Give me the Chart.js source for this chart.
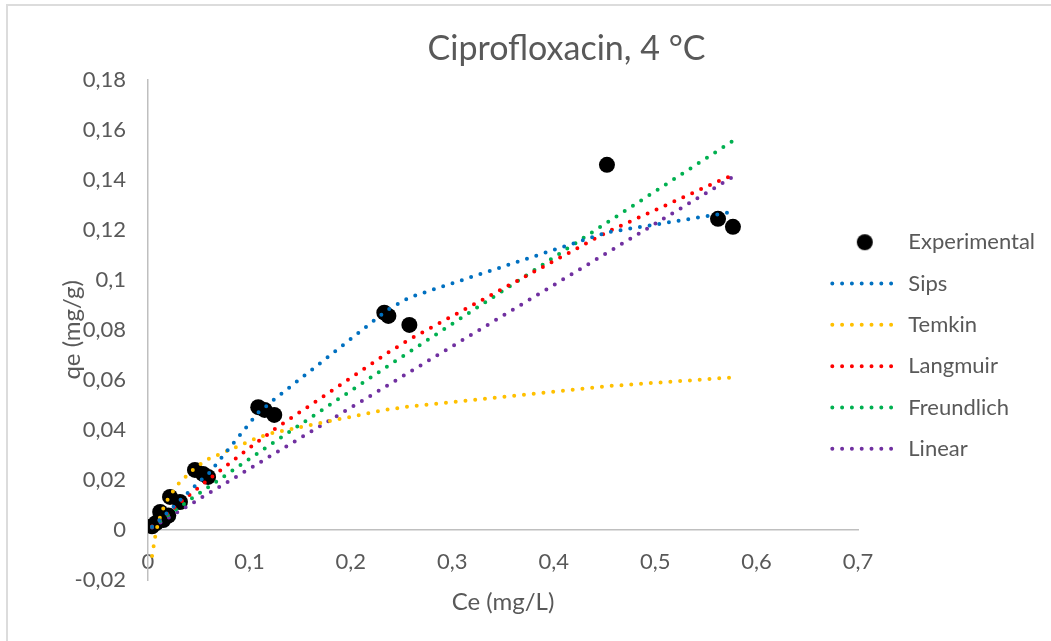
<!DOCTYPE html>
<html>
<head>
<meta charset="utf-8">
<title>Ciprofloxacin, 4 °C</title>
<script src="https://cdn.jsdelivr.net/npm/chart.js@4.4.1/dist/chart.umd.min.js"></script>
<style>
  html, body { margin: 0; padding: 0; overflow: hidden; background: #fff; }
  #wrap { position: relative; width: 1051px; height: 641px; }
  #frame { position: absolute; left: 6px; top: 4px; width: 1100px; height: 700px;
           border: 2px solid #dcdcdc; pointer-events: none; }
</style>
</head>
<body>
<div id="wrap">
  <canvas id="isoChart" width="1051" height="641"></canvas>
  <div id="frame"></div>
</div>
<script>
// equilibrium concentration (mg/L) and uptake (mg/g)
const ce = [0.004, 0.008, 0.012, 0.015, 0.020, 0.0217, 0.0315, 0.0463, 0.0542, 0.0592,
            0.1087, 0.115, 0.1245, 0.233, 0.237, 0.2577, 0.4525, 0.562, 0.5767];
const qeExperimental = [0.0015, 0.0028, 0.0072, 0.0040, 0.0058, 0.0132, 0.0112, 0.0240, 0.0224, 0.0212,
                        0.0491, 0.0480, 0.0460, 0.0869, 0.0856, 0.0820, 0.1460, 0.1244, 0.1212];
// model fits at the same Ce values
const qeSips = [0.0013, 0.0027, 0.0042, 0.0054, 0.0073, 0.0080, 0.0118, 0.0176, 0.0207, 0.0222,
                0.0470, 0.0490, 0.0522, 0.0870, 0.0882, 0.0930, 0.1190, 0.1262, 0.1272];
const qeTemkin = [-0.0104, -0.0004, 0.0054, 0.0086, 0.0127, 0.0139, 0.0192, 0.0248, 0.0270, 0.0283,
                  0.0370, 0.0378, 0.0390, 0.0480, 0.0482, 0.0494, 0.0575, 0.0606, 0.0610];
const qeLangmuir = [0.0014, 0.0028, 0.0042, 0.0052, 0.0070, 0.0075, 0.0109, 0.0158, 0.0184, 0.0200,
                    0.0355, 0.0373, 0.0402, 0.0699, 0.0710, 0.0762, 0.1191, 0.1394, 0.1419];
const qeFreundlich = [0.0013, 0.0025, 0.0036, 0.0045, 0.0060, 0.0065, 0.0093, 0.0135, 0.0157, 0.0171,
                      0.0308, 0.0326, 0.0352, 0.0646, 0.0657, 0.0712, 0.1229, 0.1517, 0.1556];
const qeLinear = [0.0010, 0.0020, 0.0029, 0.0037, 0.0049, 0.0053, 0.0077, 0.0113, 0.0133, 0.0145,
                  0.0266, 0.0282, 0.0305, 0.0570, 0.0580, 0.0631, 0.1108, 0.1376, 0.1412];

const FONT = 'Lato, "Liberation Sans", sans-serif';
const TEXT = '#595959';
const AXIS = '#bfbfbf';
const dotDash = [0, 9.8];

const pts = ys => ce.map((x, i) => ({ x: x, y: ys[i] }));
const comma = v => String(Math.round(v * 100) / 100).replace('.', ',');

// black dot used as the legend marker for the measured points
const marker = document.createElement('canvas');
marker.width = 18; marker.height = 18;
(function () {
  const m = marker.getContext('2d');
  m.fillStyle = '#000';
  m.beginPath(); m.arc(9, 9, 8, 0, Math.PI * 2); m.fill();
})();

function fitLine(label, ys, color) {
  return {
    label: label,
    data: pts(ys),
    showLine: true,
    pointRadius: 0,
    borderColor: color,
    backgroundColor: color,
    borderWidth: 4,
    borderDash: dotDash,
    borderCapStyle: 'round',
    tension: 0,
    fill: false
  };
}

// move the title and legend off the default layout slots
const nudge = {
  id: 'nudge',
  afterLayout(chart) {
    const t = chart.titleBlock;
    t.left += 18; t.right += 18;
    const lg = chart.legend;
    lg.left -= 45;
    lg.top += 50.5; lg.bottom += 50.5;
  }
};

const ctx = document.getElementById('isoChart').getContext('2d');
const isoChart = new Chart(ctx, {
  type: 'scatter',
  data: {
    datasets: [
      {
        label: 'Experimental',
        data: pts(qeExperimental),
        pointRadius: 8,
        pointHoverRadius: 8,
        backgroundColor: '#000',
        borderColor: '#000',
        borderWidth: 0,
        order: 1
      },
      fitLine('Sips', qeSips, '#0070c0'),
      fitLine('Temkin', qeTemkin, '#ffc000'),
      fitLine('Langmuir', qeLangmuir, '#ff0000'),
      fitLine('Freundlich', qeFreundlich, '#00b050'),
      fitLine('Linear', qeLinear, '#7030a0')
    ]
  },
  options: {
    responsive: false,
    devicePixelRatio: 1,
    animation: false,
    layout: { padding: { top: 10, left: 46, right: 0, bottom: 61 } },
    scales: {
      x: {
        type: 'linear',
        position: { y: 0 },
        min: 0,
        max: 0.7,
        grid: { display: false, drawTicks: false },
        border: { display: true, color: AXIS, width: 1.5 },
        ticks: { stepSize: 0.1, padding: 19, color: TEXT, font: { family: FONT, size: 22 }, callback: comma },
        title: { display: true, text: 'Ce (mg/L)', color: TEXT, font: { family: FONT, size: 24 },
                 padding: { top: -7, bottom: 0 } }
      },
      y: {
        type: 'linear',
        min: -0.02,
        max: 0.18,
        grid: { display: false, drawTicks: false },
        border: { display: true, color: AXIS, width: 1.5 },
        ticks: { stepSize: 0.02, padding: 22, color: TEXT, font: { family: FONT, size: 22 }, callback: comma },
        title: { display: true, text: 'qe (mg/g)', color: TEXT, font: { family: FONT, size: 24 },
                 padding: { top: 12, bottom: 0 } },
        afterFit(scale) { scale.width = 102; }
      }
    },
    plugins: {
      title: {
        display: true,
        text: 'Ciprofloxacin, 4 °C',
        color: TEXT,
        font: { family: FONT, size: 34, weight: 'normal' },
        padding: { top: 19, bottom: 10 }
      },
      legend: {
        position: 'right',
        maxWidth: 193,
        labels: {
          color: TEXT,
          font: { family: FONT, size: 22 },
          padding: 19.3,
          usePointStyle: true,
          pointStyleWidth: 65,
          generateLabels(chart) {
            return chart.data.datasets.map((ds, i) => ({
              text: ds.label,
              fontColor: TEXT,
              fillStyle: ds.borderColor,
              strokeStyle: ds.borderColor,
              lineWidth: ds.showLine ? 4 : 0,
              lineDash: ds.showLine ? dotDash : [],
              lineCap: 'round',
              pointStyle: ds.showLine ? 'line' : marker,
              hidden: false,
              datasetIndex: i
            }));
          }
        }
      },
      tooltip: { enabled: false }
    }
  },
  plugins: [nudge]
});
</script>
</body>
</html>
